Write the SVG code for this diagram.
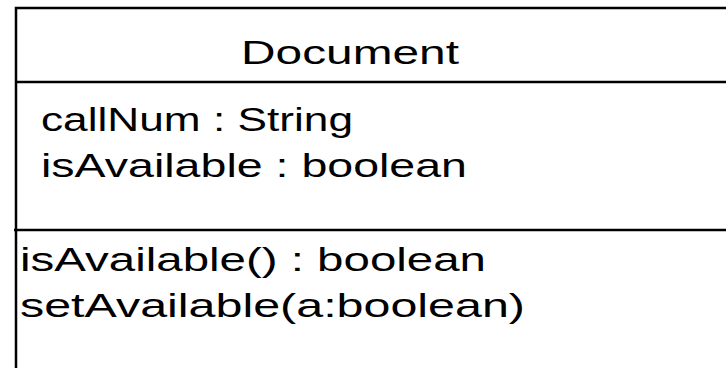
<svg xmlns="http://www.w3.org/2000/svg" width="726" height="368" viewBox="0 0 726 368">
<style>
.t{font-family:"Liberation Sans","DejaVu Sans",Arial,sans-serif;font-size:34px;fill:#000}
.ln{stroke:#000;stroke-width:2.5;fill:none}
</style>
<rect width="726" height="368" fill="#fff"/>
<g id="class-Document">
<path class="ln" d="M16,380 V8 H740"/>
<line class="ln" x1="16" y1="82" x2="740" y2="82"/>
<line class="ln" x1="14" y1="230" x2="740" y2="230"/>
<text class="t" x="241" y="64" textLength="218" lengthAdjust="spacingAndGlyphs">Document</text>
<text class="t" x="41" y="131" textLength="312" lengthAdjust="spacingAndGlyphs">callNum : String</text>
<text class="t" x="41" y="177" textLength="426" lengthAdjust="spacingAndGlyphs">isAvailable : boolean</text>
<text class="t" x="20" y="271" textLength="466" lengthAdjust="spacingAndGlyphs">isAvailable() : boolean</text>
<text class="t" x="20" y="317" textLength="505" lengthAdjust="spacingAndGlyphs">setAvailable(a:boolean)</text>
</g>
</svg>
